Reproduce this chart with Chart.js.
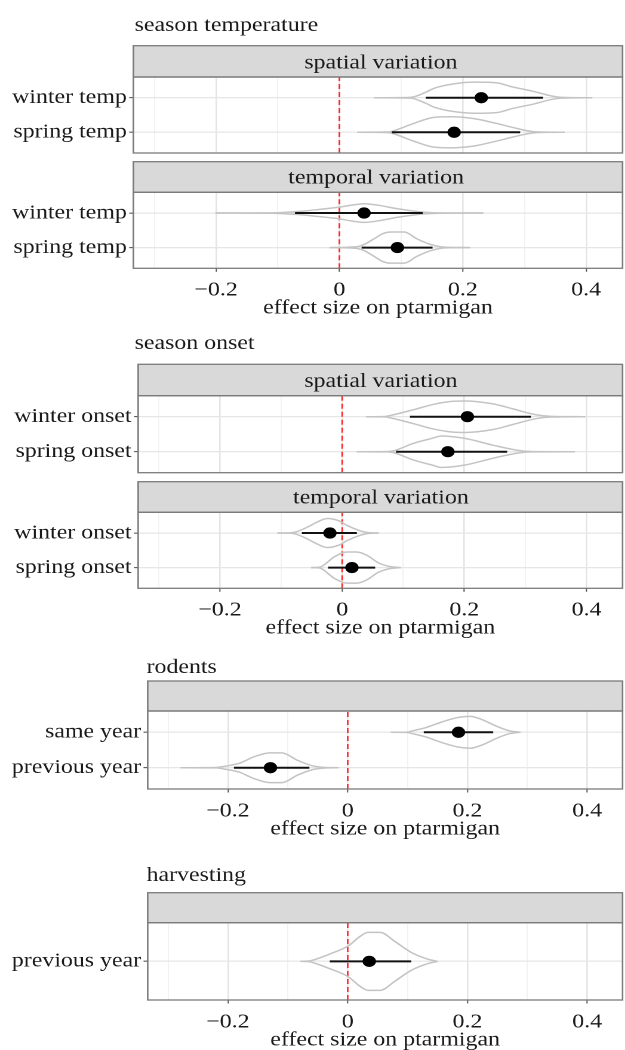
<!DOCTYPE html>
<html>
<head>
<meta charset="utf-8">
<script src="https://cdn.jsdelivr.net/npm/chart.js@4.4.1/dist/chart.umd.min.js"></script>
<style>
html, body { margin: 0; padding: 0; background: #fff; width: 625px; height: 1050px; overflow: hidden; position: relative; }
.panel { position: absolute; left: 0; transform-origin: 0 0; }
</style>
</head>
<body>
<script>
// ---------------- data ----------------
const groupTitles = ['season temperature', 'season onset', 'rodents', 'harvesting'];
const stripLabels = ['spatial variation', 'temporal variation', 'spatial variation', 'temporal variation', '', ''];
const tempCategories = ['winter temp', 'spring temp'];
const onsetCategories = ['winter onset', 'spring onset'];
const rodentCategories = ['same year', 'previous year'];
const harvestCategories = ['previous year'];
const panelCategories = [tempCategories, tempCategories, onsetCategories, onsetCategories, rodentCategories, harvestCategories];
const xAxisTitle = 'effect size on ptarmigan';
const xTickValues = [-0.2, 0, 0.2, 0.4];
const xTickLabels = ['\u22120.2', '0', '0.2', '0.4'];
const xMinorValues = [-0.3, -0.1, 0.1, 0.3];

// point estimates and intervals (per panel, per row, top row first)
const estimates = [[0.230, 0.186], [0.040, 0.094], [0.205, 0.173], [-0.020, 0.016], [0.185, -0.129], [0.036]];
const ciLow = [[0.140, 0.085], [-0.072, 0.036], [0.111, 0.088], [-0.066, -0.023], [0.127, -0.190], [-0.030]];
const ciHigh = [[0.330, 0.293], [0.135, 0.151], [0.309, 0.270], [0.024, 0.054], [0.243, -0.064], [0.106]];

// violin outlines: [effect size, half width in row units]
const violinProfiles = [
  [
    [[0.056,0],[0.115,0.01],[0.140,0.16],[0.153,0.27],[0.185,0.40],[0.220,0.45],[0.255,0.43],[0.281,0.31],[0.313,0.19],[0.344,0.05],[0.360,0.01],[0.410,0]],
    [[0.029,0],[0.080,0.01],[0.089,0.05],[0.121,0.26],[0.153,0.43],[0.179,0.45],[0.217,0.40],[0.249,0.28],[0.281,0.14],[0.306,0.04],[0.320,0.01],[0.365,0]]
  ],
  [
    [[-0.201,0],[-0.110,0.005],[-0.070,0.04],[-0.035,0.10],[0.000,0.17],[0.020,0.23],[0.041,0.27],[0.065,0.22],[0.092,0.13],[0.119,0.06],[0.140,0.02],[0.165,0.005],[0.233,0]],
    [[-0.016,0],[0.013,0.01],[0.030,0.03],[0.039,0.08],[0.055,0.24],[0.070,0.40],[0.083,0.45],[0.105,0.45],[0.125,0.26],[0.146,0.10],[0.165,0.02],[0.180,0.005],[0.212,0]]
  ],
  [
    [[0.039,0],[0.070,0.005],[0.078,0.03],[0.117,0.20],[0.149,0.35],[0.181,0.44],[0.201,0.45],[0.246,0.37],[0.278,0.23],[0.316,0.06],[0.342,0.01],[0.398,0]],
    [[0.024,0],[0.075,0.005],[0.085,0.03],[0.117,0.24],[0.149,0.39],[0.162,0.45],[0.201,0.38],[0.246,0.19],[0.291,0.03],[0.310,0.005],[0.381,0]]
  ],
  [
    [[-0.106,0],[-0.085,0.005],[-0.076,0.03],[-0.057,0.17],[-0.044,0.29],[-0.024,0.42],[-0.005,0.35],[0.008,0.22],[0.027,0.08],[0.040,0.02],[0.060,0]],
    [[-0.051,0],[-0.040,0.005],[-0.034,0.03],[-0.012,0.32],[0.008,0.45],[0.024,0.45],[0.040,0.36],[0.059,0.14],[0.078,0.03],[0.096,0]]
  ],
  [
    [[0.072,0],[0.100,0.005],[0.106,0.03],[0.132,0.14],[0.159,0.30],[0.185,0.42],[0.205,0.45],[0.224,0.36],[0.250,0.16],[0.270,0.04],[0.289,0]],
    [[-0.279,0],[-0.220,0.005],[-0.209,0.03],[-0.182,0.12],[-0.156,0.31],[-0.130,0.42],[-0.110,0.42],[-0.084,0.21],[-0.058,0.05],[-0.040,0.01],[-0.015,0]]
  ],
  [
    [[-0.079,0],[-0.065,0.005],[-0.058,0.02],[-0.031,0.11],[0.001,0.24],[0.021,0.39],[0.034,0.45],[0.054,0.45],[0.080,0.30],[0.106,0.14],[0.132,0.04],[0.150,0]]
  ]
];

// ---------------- layout / style ----------------
const X_MIN = -0.334, X_MAX = 0.459;
const STRETCH = 1.194;      // horizontal stretch of the whole figure
const CANVAS_W = 527;
const FONT = "'Liberation Serif', 'Times New Roman', Times, serif";
const TEXT = '#1a1a1a';
const AXIS_H = 56;          // x axis band with labels
const BLANK_AXIS_H = 20;    // hidden x axis band (no labels)

const layout = [
  { top: 0,   left: 111.7, stripTop: 45.7,  plotTop: 77,    plotBottom: 153,   title: 0,    titleX: 112.7, titleY: 31,  stripX: 319, axis: false },
  { top: 155, left: 111.7, stripTop: 161.7, plotTop: 192.3, plotBottom: 268.3, title: null, stripX: 315, axis: true },
  { top: 330, left: 115.7, stripTop: 364.3, plotTop: 395.7, plotBottom: 472.7, title: 1,    titleX: 112.7, titleY: 349, stripX: 319, axis: false },
  { top: 475, left: 115.7, stripTop: 481.7, plotTop: 512.3, plotBottom: 588.3, title: null, stripX: 319, axis: true },
  { top: 650, left: 123.7, stripTop: 681,   plotTop: 711,   plotBottom: 789,   title: 2,    titleX: 122.7, titleY: 673, stripX: 0,   axis: true },
  { top: 850, left: 123.7, stripTop: 892.7, plotTop: 922.7, plotBottom: 1000,  title: 3,    titleX: 122.7, titleY: 881, stripX: 0,   axis: true }
];

const isMajor = v => xTickValues.some(t => Math.abs(t - v) < 1e-9);

const decor = {
  id: 'decor',
  afterDraw(chart, args, opts) {
    const L = opts.lay;
    const { ctx, chartArea: a } = chart;
    ctx.save();
    const st = L.stripTop - L.top;
    ctx.fillStyle = '#d9d9d9';
    ctx.fillRect(a.left, st, a.right - a.left, a.top - st);
    ctx.strokeStyle = '#7b7b7b';
    ctx.lineWidth = 1.3;
    ctx.strokeRect(a.left, st, a.right - a.left, a.top - st);
    ctx.strokeRect(a.left, a.top, a.right - a.left, a.bottom - a.top);
    ctx.fillStyle = TEXT;
    ctx.font = '20px ' + FONT;
    ctx.textBaseline = 'alphabetic';
    if (opts.strip) {
      ctx.textAlign = 'center';
      ctx.fillText(opts.strip, L.stripX, a.top - 8.7);
    }
    if (opts.title) {
      ctx.textAlign = 'left';
      ctx.fillText(opts.title, L.titleX, L.titleY - L.top);
    }
    ctx.restore();
  }
};

function buildDatasets(p) {
  const cats = panelCategories[p];
  const n = cats.length;
  const ds = [];
  ds.push({ data: [{ x: 0, y: 0.4 }, { x: 0, y: n + 0.6 }], showLine: true, borderColor: '#ff2a2a',
            borderWidth: 1.4, borderDash: [5, 3], pointRadius: 0, order: 5 });
  cats.forEach((c, i) => {
    const row = n - i;
    const prof = violinProfiles[p][i];
    const common = { showLine: true, borderColor: '#c4c4c4', borderWidth: 1.5, pointRadius: 0,
                     cubicInterpolationMode: 'monotone', order: 3 };
    ds.push(Object.assign({ data: prof.map(([x, h]) => ({ x, y: row + h })) }, common));
    ds.push(Object.assign({ data: prof.map(([x, h]) => ({ x, y: row - h })) }, common));
    ds.push({ data: [{ x: ciLow[p][i], y: row }, { x: ciHigh[p][i], y: row }], showLine: true,
              borderColor: '#111', borderWidth: 2, pointRadius: 0, order: 2 });
    ds.push({ data: [{ x: estimates[p][i], y: row }], pointRadius: 5.6, pointBackgroundColor: '#000',
              pointBorderWidth: 0, order: 1 });
  });
  return ds;
}

layout.forEach((L, p) => {
  const xH = L.axis ? AXIS_H : BLANK_AXIS_H;
  const wrap = document.createElement('div');
  wrap.className = 'panel';
  wrap.style.top = L.top + 'px';
  wrap.style.transform = `scaleX(${STRETCH})`;
  const cv = document.createElement('canvas');
  cv.width = CANVAS_W;
  cv.height = Math.round(L.plotBottom - L.top + xH);
  wrap.appendChild(cv);
  document.body.appendChild(wrap);
  const axisH = cv.height - (L.plotBottom - L.top);

  const cats = panelCategories[p];
  const n = cats.length;
  const rows = cats.map((c, i) => n - i);

  new Chart(cv, {
    type: 'scatter',
    data: { datasets: buildDatasets(p) },
    plugins: [decor],
    options: {
      responsive: false,
      animation: false,
      devicePixelRatio: 2,
      layout: { padding: { top: L.plotTop - L.top, left: 0, right: 0, bottom: 0 } },
      plugins: {
        legend: { display: false },
        tooltip: { enabled: false },
        decor: { lay: L, strip: stripLabels[p], title: L.title === null ? '' : groupTitles[L.title] }
      },
      scales: {
        x: {
          type: 'linear', position: 'bottom', min: X_MIN, max: X_MAX,
          afterBuildTicks: axis => { axis.ticks = [...xMinorValues, ...xTickValues].sort((a, b) => a - b).map(v => ({ value: v })); },
          afterFit: s => { s.height = axisH; s.paddingLeft = 0; s.paddingRight = 0; },
          border: { display: false },
          grid: {
            color: c => (c.tick && isMajor(c.tick.value)) ? '#e4e4e4' : '#f1f1f1',
            lineWidth: c => (c.tick && isMajor(c.tick.value)) ? 1.3 : 0.9,
            drawTicks: L.axis,
            tickLength: 3.5,
            tickColor: c => (c.tick && isMajor(c.tick.value)) ? '#555' : 'rgba(0,0,0,0)',
            tickWidth: 1
          },
          ticks: {
            display: L.axis, autoSkip: false, maxRotation: 0, padding: 6.5,
            font: { family: FONT, size: 20 }, color: TEXT,
            callback: v => { const k = xTickValues.findIndex(t => Math.abs(t - v) < 1e-9); return k >= 0 ? xTickLabels[k] : ''; }
          },
          title: { display: L.axis, text: xAxisTitle, font: { family: FONT, size: 20 }, color: TEXT,
                   padding: { top: 0, bottom: 3.8 } }
        },
        y: {
          type: 'linear', position: 'left', min: 0.4, max: n + 0.6,
          afterBuildTicks: axis => { axis.ticks = rows.map(v => ({ value: v })); },
          afterFit: s => { s.width = L.left; s.paddingTop = 0; s.paddingBottom = 0; },
          border: { display: false },
          grid: { color: '#e6e6e6', lineWidth: 1.3, drawTicks: true, tickLength: 3.5, tickColor: '#444', tickWidth: 1 },
          ticks: {
            autoSkip: false, padding: 2, font: { family: FONT, size: 20 }, color: TEXT,
            callback: v => cats[n - Math.round(v)]
          }
        }
      }
    }
  });
});
</script>
</body>
</html>
